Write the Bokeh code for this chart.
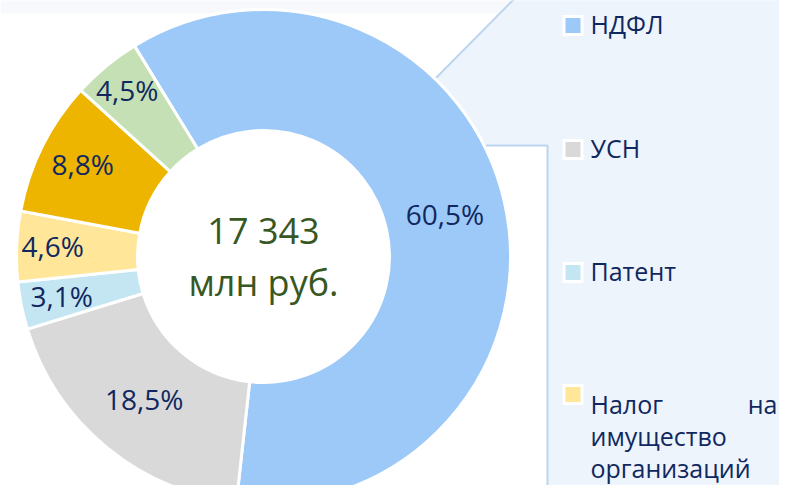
import numpy as np
from bokeh.plotting import figure
from bokeh.models import ColumnDataSource, Range1d
from bokeh.embed import file_html
from bokeh.resources import INLINE
from bokeh.core.properties import value

# ---- data ----
shares = [60.5, 18.5, 3.1, 4.6, 8.8, 4.5]
share_labels = ["60,5%", "18,5%", "3,1%", "4,6%", "8,8%", "4,5%"]
slice_colors = ["#9DC9F8", "#D9D9D9", "#C4E6F2", "#FFE699", "#EDB500", "#C5E0B4"]
legend_labels = ["НДФЛ", "УСН", "Патент", "Налог на имущество организаций"]
legend_colors = slice_colors[:4]
total_lines = ["17 343", "млн руб."]

# ---- layout (reference pixel coords, y measured from top) ----
FW, FH = 779, 485
cx, cy_top = 263, 256
r_out, r_in = 247, 126
start_deg = -31.5                     # clockwise from 12 o'clock
label_r = [186, 187, 206, 211, 202, 214]
NAVY = "#10285F"
GREEN = "#385723"
FONT = "Open Sans"


def Y(y_top):
    return FH - y_top


p = figure(width=FW, height=FH, output_backend="svg", toolbar_location=None,
           x_range=Range1d(0, FW), y_range=Range1d(0, FH))
p.axis.visible = False
p.grid.visible = False
p.outline_line_color = None
p.min_border = 0
p.background_fill_color = "white"
p.border_fill_color = "white"

# faint top strip
p.patch([0, 800, 800, 0], [Y(-5), Y(-5), Y(13), Y(13)], fill_color="#F7F9FC", line_color=None)

# legend callout background
px = [430, 520, 800, 800, 547, 547, 480, 420]
py = [83, -8, -8, 510, 510, 145, 145, 140]
p.patch(px, [Y(v) for v in py], fill_color="#EDF4FC", line_color=None)
p.line([430, 520], [Y(83), Y(-8)], line_color="#BCD5EE", line_width=2)
p.line([480, 547, 547], [Y(145), Y(145), Y(510)], line_color="#BCD5EE", line_width=2)

# ---- donut ----
vals = np.array(shares, dtype=float)
frac = vals / vals.sum()
cum = np.cumsum(frac)
prev = np.concatenate([[0.0], cum[:-1]])
th_start = start_deg + 360 * prev
th_end = start_deg + 360 * cum
th_mid = (th_start + th_end) / 2

src = ColumnDataSource(dict(
    start=np.radians(90 - th_end),
    end=np.radians(90 - th_start),
    color=slice_colors,
))
p.annular_wedge(x=cx, y=Y(cy_top), inner_radius=r_in, outer_radius=r_out,
                start_angle="start", end_angle="end", direction="anticlock",
                fill_color="color", line_color="white", line_width=3, source=src)

lab = ColumnDataSource(dict(
    x=cx + np.array(label_r) * np.sin(np.radians(th_mid)),
    y=Y(cy_top) + np.array(label_r) * np.cos(np.radians(th_mid)) + 2,
    text=share_labels,
))
p.text(x="x", y="y", text="text", source=lab, text_align="center", text_baseline="middle",
       text_font=value(FONT), text_font_size="28px", text_color=NAVY)

# centre total
p.text(x=[cx, cx], y=[Y(230), Y(282)], text=total_lines, text_align="center",
       text_baseline="middle", text_font=value(FONT), text_font_size="36px", text_color=GREEN)

# ---- legend ----
sq_x = 572.5
sq_y = [25, 149, 272, 394]
p.rect(x=[sq_x] * 4, y=[Y(v) for v in sq_y], width=21, height=21,
       fill_color="white", line_color=None)
p.rect(x=[sq_x] * 4, y=[Y(v) for v in sq_y], width=15, height=15,
       fill_color=legend_colors, line_color=None)

single = legend_labels[:3]
p.text(x=[590] * 3, y=[Y(v - 2) for v in sq_y[:3]], text=single, text_align="left",
       text_baseline="middle", text_font=value(FONT), text_font_size="25px", text_color=NAVY)

words = legend_labels[3].split(" ")
# justified first line: "Налог ... на"
p.text(x=[590], y=[Y(403)], text=[words[0]], text_align="left", text_baseline="alphabetic",
       text_font=value(FONT), text_font_size="25px", text_color=NAVY)
p.text(x=[777], y=[Y(403)], text=[words[1]], text_align="right", text_baseline="alphabetic",
       text_font=value(FONT), text_font_size="25px", text_color=NAVY)
p.text(x=[590, 590], y=[Y(435), Y(467)], text=words[2:], text_align="left",
       text_baseline="alphabetic", text_font=value(FONT), text_font_size="25px", text_color=NAVY)

open("out.html", "w").write(file_html(p, INLINE))
